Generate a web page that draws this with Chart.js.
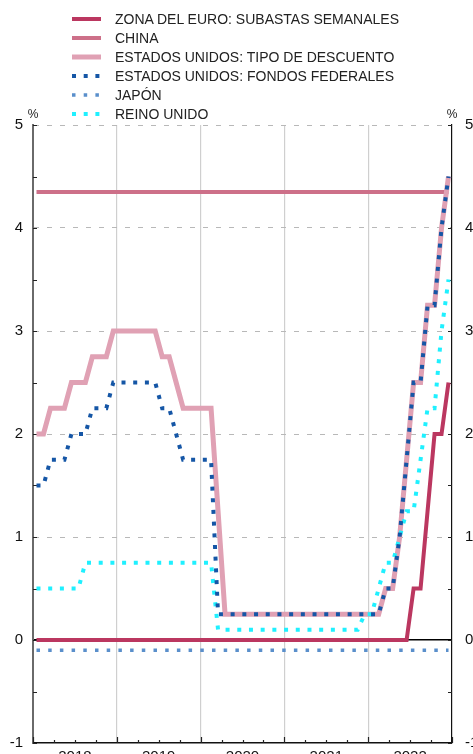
<!DOCTYPE html>
<html lang="es">
<head>
<meta charset="utf-8">
<script src="https://cdn.jsdelivr.net/npm/chart.js@4.4.0/dist/chart.umd.min.js"></script>
<style>
  html, body { margin: 0; padding: 0; background: #fff; overflow: hidden; }
  #wrap { position: relative; width: 473px; height: 754px; overflow: hidden; }
  #chart { position: absolute; left: 0; top: 0; }
  #legend { position: absolute; left: 0; top: 9px; font: 14px "Liberation Sans", Arial, sans-serif; color: #222; }
  .item { display: flex; align-items: center; height: 19px; white-space: nowrap; }
  .item svg { margin-left: 72px; flex: none; }
  .item span { margin-left: 14px; }
</style>
</head>
<body>
<div id="wrap">
  <canvas id="chart" width="473" height="790"></canvas>
  <div id="legend"></div>
</div>
<script>
// Tipos de interés oficiales, datos mensuales 2018-2022 (%)
const years = [2018, 2019, 2020, 2021, 2022];
const monthNames = ['ene', 'feb', 'mar', 'abr', 'may', 'jun', 'jul', 'ago', 'sep', 'oct', 'nov', 'dic'];
const months = years.flatMap(y => monthNames.map(m => m + ' ' + y));

const euroArea = [
    0, 0, 0, 0, 0, 0, 0, 0, 0, 0, 0, 0,
    0, 0, 0, 0, 0, 0, 0, 0, 0, 0, 0, 0,
    0, 0, 0, 0, 0, 0, 0, 0, 0, 0, 0, 0,
    0, 0, 0, 0, 0, 0, 0, 0, 0, 0, 0, 0,
    0, 0, 0, 0, 0, 0, 0.5, 0.5, 1.25, 2, 2, 2.5
];
const china = [
    4.35, 4.35, 4.35, 4.35, 4.35, 4.35, 4.35, 4.35, 4.35, 4.35, 4.35, 4.35,
    4.35, 4.35, 4.35, 4.35, 4.35, 4.35, 4.35, 4.35, 4.35, 4.35, 4.35, 4.35,
    4.35, 4.35, 4.35, 4.35, 4.35, 4.35, 4.35, 4.35, 4.35, 4.35, 4.35, 4.35,
    4.35, 4.35, 4.35, 4.35, 4.35, 4.35, 4.35, 4.35, 4.35, 4.35, 4.35, 4.35,
    4.35, 4.35, 4.35, 4.35, 4.35, 4.35, 4.35, 4.35, 4.35, 4.35, 4.35, 4.35
];
const usDiscount = [
    2, 2, 2.25, 2.25, 2.25, 2.5, 2.5, 2.5, 2.75, 2.75, 2.75, 3,
    3, 3, 3, 3, 3, 3, 2.75, 2.75, 2.5, 2.25, 2.25, 2.25,
    2.25, 2.25, 1.25, 0.25, 0.25, 0.25, 0.25, 0.25, 0.25, 0.25, 0.25, 0.25,
    0.25, 0.25, 0.25, 0.25, 0.25, 0.25, 0.25, 0.25, 0.25, 0.25, 0.25, 0.25,
    0.25, 0.25, 0.5, 0.5, 1, 1.75, 2.5, 2.5, 3.25, 3.25, 4, 4.5
];
const usFedFunds = [
    1.5, 1.5, 1.75, 1.75, 1.75, 2, 2, 2, 2.25, 2.25, 2.25, 2.5,
    2.5, 2.5, 2.5, 2.5, 2.5, 2.5, 2.25, 2.25, 2, 1.75, 1.75, 1.75,
    1.75, 1.75, 0.25, 0.25, 0.25, 0.25, 0.25, 0.25, 0.25, 0.25, 0.25, 0.25,
    0.25, 0.25, 0.25, 0.25, 0.25, 0.25, 0.25, 0.25, 0.25, 0.25, 0.25, 0.25,
    0.25, 0.25, 0.5, 0.5, 1, 1.75, 2.5, 2.5, 3.25, 3.25, 4, 4.5
];
const japan = [
    -0.1, -0.1, -0.1, -0.1, -0.1, -0.1, -0.1, -0.1, -0.1, -0.1, -0.1, -0.1,
    -0.1, -0.1, -0.1, -0.1, -0.1, -0.1, -0.1, -0.1, -0.1, -0.1, -0.1, -0.1,
    -0.1, -0.1, -0.1, -0.1, -0.1, -0.1, -0.1, -0.1, -0.1, -0.1, -0.1, -0.1,
    -0.1, -0.1, -0.1, -0.1, -0.1, -0.1, -0.1, -0.1, -0.1, -0.1, -0.1, -0.1,
    -0.1, -0.1, -0.1, -0.1, -0.1, -0.1, -0.1, -0.1, -0.1, -0.1, -0.1, -0.1
];
const unitedKingdom = [
    0.5, 0.5, 0.5, 0.5, 0.5, 0.5, 0.5, 0.75, 0.75, 0.75, 0.75, 0.75,
    0.75, 0.75, 0.75, 0.75, 0.75, 0.75, 0.75, 0.75, 0.75, 0.75, 0.75, 0.75,
    0.75, 0.75, 0.1, 0.1, 0.1, 0.1, 0.1, 0.1, 0.1, 0.1, 0.1, 0.1,
    0.1, 0.1, 0.1, 0.1, 0.1, 0.1, 0.1, 0.1, 0.1, 0.1, 0.1, 0.25,
    0.25, 0.5, 0.75, 0.75, 1, 1.25, 1.25, 1.75, 2.25, 2.25, 3, 3.5
];

Chart.defaults.font.family = '"Liberation Sans", Arial, sans-serif';
Chart.defaults.color = '#111';

function line(label, data, color, width, dash, order) {
    return {
        label: label,
        data: data,
        borderColor: color,
        backgroundColor: color,
        borderWidth: width,
        borderDash: dash,
        borderCapStyle: 'butt',
        borderJoinStyle: 'miter',
        pointRadius: 0,
        tension: 0,
        fill: false,
        order: order
    };
}

// HTML legend, one row per dataset
const htmlLegend = {
    id: 'htmlLegend',
    afterUpdate(chart) {
        const box = document.getElementById('legend');
        box.innerHTML = '';
        const ns = 'http://www.w3.org/2000/svg';
        chart.data.datasets.forEach(ds => {
            const row = document.createElement('div');
            row.className = 'item';
            const svg = document.createElementNS(ns, 'svg');
            svg.setAttribute('width', '29');
            svg.setAttribute('height', '8');
            const l = document.createElementNS(ns, 'line');
            l.setAttribute('x1', '0');
            l.setAttribute('x2', '29');
            l.setAttribute('y1', '4');
            l.setAttribute('y2', '4');
            l.setAttribute('stroke', ds.borderColor);
            l.setAttribute('stroke-width', ds.borderWidth);
            if (ds.borderDash.length) l.setAttribute('stroke-dasharray', ds.borderDash.join(' '));
            svg.appendChild(l);
            const text = document.createElement('span');
            text.textContent = ds.label;
            row.appendChild(svg);
            row.appendChild(text);
            box.appendChild(row);
        });
    }
};

// inward tick marks and the "%" unit labels
const axisDecor = {
    id: 'axisDecor',
    beforeDatasetsDraw(chart) {
        const {ctx, chartArea, scales} = chart;
        const y = scales.y, x = scales.x;
        ctx.save();
        ctx.strokeStyle = '#222';
        ctx.lineWidth = 1.2;
        ctx.beginPath();
        for (let v = -1; v <= 5; v += 0.5) {
            const py = Math.round(y.getPixelForValue(v)) + 0.5;
            ctx.moveTo(chartArea.left, py);
            ctx.lineTo(chartArea.left + 4, py);
            ctx.moveTo(chartArea.right, py);
            ctx.lineTo(chartArea.right - 4, py);
        }
        for (let i = 0; i <= months.length; i += 3) {
            const px = Math.round(x.getPixelForValue(i - 0.5)) + 0.5;
            const len = i % 12 === 0 ? 6 : 3;
            ctx.moveTo(px, chartArea.bottom);
            ctx.lineTo(px, chartArea.bottom - len);
        }
        ctx.stroke();
        ctx.fillStyle = '#222';
        ctx.font = '12px "Liberation Sans", Arial, sans-serif';
        ctx.textAlign = 'center';
        ctx.textBaseline = 'alphabetic';
        ctx.fillText('%', chartArea.left, chartArea.top - 7);
        ctx.fillText('%', chartArea.right, chartArea.top - 7);
        ctx.restore();
    }
};

new Chart(document.getElementById('chart'), {
    type: 'line',
    data: {
        labels: months,
        datasets: [
            line('ZONA DEL EURO: SUBASTAS SEMANALES', euroArea, '#bb3760', 4, [], 4),
            line('CHINA', china, '#cd7089', 4, [], 6),
            line('ESTADOS UNIDOS: TIPO DE DESCUENTO', usDiscount, '#e0a1b4', 5, [], 5),
            line('ESTADOS UNIDOS: FONDOS FEDERALES', usFedFunds, '#1556a6', 4, [4, 7.7], 1),
            line('JAPÓN', japan, '#5a8fcb', 3.5, [3.5, 8.2], 3),
            line('REINO UNIDO', unitedKingdom, '#1ff0ff', 4, [4, 7.7], 2)
        ]
    },
    options: {
        responsive: false,
        animation: false,
        events: [],
        layout: { padding: { top: 125, left: 0, right: 0, bottom: 0 } },
        plugins: {
            legend: { display: false },
            tooltip: { enabled: false }
        },
        scales: {
            x: {
                type: 'category',
                offset: true,
                grid: {
                    offset: true,
                    drawTicks: false,
                    color: (ctx) => (ctx.index > 0 && ctx.index % 12 === 0) ? '#cfcfcf' : 'transparent',
                    lineWidth: 1.2
                },
                border: { color: '#111', width: 1.5 },
                ticks: {
                    autoSkip: false,
                    maxRotation: 0,
                    minRotation: 0,
                    padding: 5,
                    labelOffset: -3.5,
                    font: { size: 15 },
                    callback: (value, index) => index % 12 === 6 ? String(years[Math.floor(index / 12)]) : ''
                },
                afterFit: (scale) => { scale.height = 47; }
            },
            y: {
                position: 'left',
                min: -1,
                max: 5,
                ticks: { stepSize: 1, padding: 10, font: { size: 15 } },
                grid: {
                    drawTicks: false,
                    color: (ctx) => ctx.tick.value > 0 ? '#b8b8b8' : 'transparent',
                    lineWidth: 1
                },
                border: { color: '#6a6a6a', width: 2, dash: [5, 8] },
                afterFit: (scale) => { scale.width = 33; }
            },
            y2: {
                position: 'right',
                min: -1,
                max: 5,
                ticks: { stepSize: 1, padding: 13, font: { size: 15 } },
                grid: {
                    drawTicks: false,
                    color: (ctx) => ctx.tick.value === 0 ? '#000' : 'transparent',
                    lineWidth: 1.5
                },
                border: { color: '#111', width: 1.2 },
                afterFit: (scale) => { scale.width = 21; }
            }
        }
    },
    plugins: [htmlLegend, axisDecor]
});
</script>
</body>
</html>
